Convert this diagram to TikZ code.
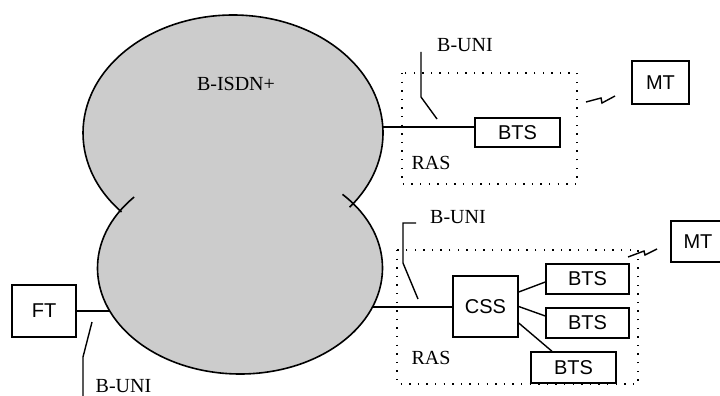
\documentclass[tikz,border=0pt]{standalone}
\usepackage{fontspec}
\setmainfont{Liberation Serif}
\newfontfamily\labelsans{Liberation Sans}
\begin{document}
\begin{tikzpicture}[x=1pt,y=-1pt,
  unit/.style={draw, line width=1.4pt, inner sep=0pt, font=\labelsans\fontsize{20}{20}\selectfont},
  tag/.style={inner sep=0pt, font=\fontsize{20}{20}\selectfont},
  wire/.style={line width=1.4pt},
  zone/.style={line width=1.4pt, dash pattern=on 1.4pt off 7.2pt},
  cloud/.style={fill=black!20},
  rim/.style={line width=1.6pt},
  radio/.style={line width=1.4pt, line join=miter}]
\useasboundingbox (0,0) rectangle (720,396);

% network cloud: two overlapping ellipses
\fill[cloud] (233,133) ellipse [x radius=150, y radius=118];
\fill[cloud] (240,268) ellipse [x radius=142.5, y radius=106];
\draw[rim] ([shift={(138:150 and 118)}]233,133)
  arc[start angle=138, end angle=399, x radius=150, y radius=118];
\draw[rim] ([shift={(-44:142.5 and 106)}]240,268)
  arc[start angle=-44, end angle=222, x radius=142.5, y radius=106];

% attachment points on the cloud rim
\coordinate (cU) at ([shift={(-3:150 and 118)}]233,133);
\coordinate (cL) at ([shift={(21.6:142.5 and 106)}]240,268);
\coordinate (cF) at ([shift={(156:142.5 and 106)}]240,268);

% radio access subsystems
\draw[zone] (402,73) rectangle (577,184);
\draw[zone] (397,250) rectangle (638,384);

% terminals and stations
\node[unit, minimum width=85pt, minimum height=29pt] (btsA) at (517.5,132.5) {BTS};
\node[unit, minimum width=57pt, minimum height=43pt] (mtA) at (660.5,82.5) {MT};
\node[unit, minimum width=65pt, minimum height=61pt] (css) at (485.5,306.5) {CSS};
\node[unit, minimum width=83pt, minimum height=30pt] (btsB) at (587.5,279) {BTS};
\node[unit, minimum width=83pt, minimum height=30pt] (btsC) at (587.5,323) {BTS};
\node[unit, minimum width=85pt, minimum height=31pt] (btsD) at (573.5,367.5) {BTS};
\node[unit, minimum width=54pt, minimum height=41pt] (mtB) at (698,241.5) {MT};
\node[unit, minimum width=64pt, minimum height=52pt] (ft) at (44,311) {FT};

% links
\draw[wire] (cU) -- (cU -| btsA.west);
\draw[wire] (cL) -- (cL -| css.west);
\draw[wire] (ft.east |- cF) -- (cF);
\draw[wire] ([yshift=14.5pt]css.east) -- ([yshift=-3pt]btsB.west);
\draw[wire] (css.east) -- ([yshift=7pt]btsC.west);
\draw[wire] ([yshift=-16.5pt]css.east) -- ([xshift=-21.5pt]btsD.north);

% interface pointers
\coordinate (uA1) at (421,52);
\coordinate (uA2) at (421,97);
\coordinate (uA3) at (437,119);
\draw[wire] (uA1) -- (uA2) -- (uA3);
\coordinate (uB1) at (416,223);
\coordinate (uB2) at (403,223);
\coordinate (uB3) at (403,263);
\coordinate (uB4) at (418,299);
\draw[wire] (uB1) -- (uB2) -- (uB3) -- (uB4);
\coordinate (uC1) at (92,322);
\coordinate (uC2) at (83,357);
\coordinate (uC3) at (83,400);
\draw[wire] (uC1) -- (uC2) -- (uC3);

% radio links
\draw[radio] (586,102) -- (601,98) -- (602,103) -- (615,96);
\draw[radio] (628,257) -- (644,251) -- (645,255) -- (657,249);

% labels
\node[tag] (isdn) at (236,84) {B-ISDN+};
\node[tag] (uniA) at (465,45) {B-UNI};
\node[tag] (rasA) at (431,163) {RAS};
\node[tag] (uniB) at (458,217) {B-UNI};
\node[tag] (rasB) at (431,358) {RAS};
\node[tag] (uniC) at (123.5,386.5) {B-UNI};
\end{tikzpicture}
\end{document}
